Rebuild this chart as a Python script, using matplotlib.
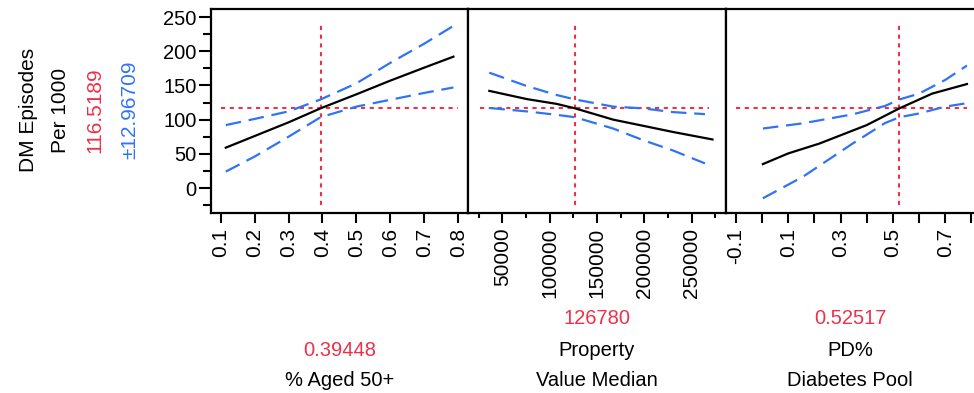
import numpy as np
import matplotlib
matplotlib.use("Agg")
from matplotlib import pyplot as plt
from matplotlib.ticker import FixedLocator, NullFormatter

plt.rcParams['font.family'] = ['Liberation Sans', 'DejaVu Sans']

RED = '#EE3049'
BLUE = '#2F74F5'

# valores
resp_nome = ["DM Episodes", "Per 1000"]
resp_valor = "116.5189"
resp_ic = "\u00b112.96709"
resp_y = 116.5189

# painel 1 - % Aged 50+
x1 = [0.115, 0.2, 0.3, 0.39448, 0.5, 0.6, 0.7, 0.786]
media1 = [59, 76, 96, 116.5, 137, 157, 176, 192]
sup1 = [92, 101, 112, 129.5, 153, 183, 211, 237]
inf1 = [24, 46, 75, 103.5, 119, 129, 139, 147]
faixa1 = [0.102, 0.80]

# painel 2 - Property Value Median
x2 = [36300, 76000, 107400, 126780, 167000, 198600, 230000, 271900]
media2 = [142, 130, 123, 116.5, 100, 91, 82, 71]
xb2 = [36300, 76000, 107400, 126780, 167000, 198600, 230000, 264000]
sup2 = [168.6, 149, 136, 129.5, 119, 116.5, 111, 108]
inf2 = [117, 112, 107, 103.5, 87, 70, 55, 36]
faixa2 = [26500, 268400]

# painel 3 - PD% Diabetes Pool
x3 = [0.003, 0.1, 0.219, 0.4, 0.52517, 0.65, 0.783]
media3 = [35, 50.6, 65, 92, 116.5, 138, 152]
xb3 = [0.003, 0.156, 0.346, 0.47, 0.52517, 0.6, 0.7, 0.783]
sup3 = [87, 94.6, 107.7, 120, 129.5, 138, 158, 179]
inf3 = [-15, 16.5, 65, 95, 103.5, 109, 119, 124]
faixa3 = [-0.1, 0.785]

fator_valor = ["0.39448", "126780", "0.52517"]
fator_x = [0.39448, 126780, 0.52517]
fator_nome = [["% Aged 50+"], ["Property", "Value Median"], ["PD%", "Diabetes Pool"]]

xlims = [(0.0714, 0.829), (13800, 286200), (-0.138, 0.81)]
xmaj = [[0.1, 0.2, 0.3, 0.4, 0.5, 0.6, 0.7, 0.8],
        [50000, 100000, 150000, 200000, 250000],
        [-0.1, 0.1, 0.3, 0.5, 0.7]]
xmin = [[],
        [25000, 75000, 125000, 175000, 225000, 275000],
        [0.0, 0.2, 0.4, 0.6, 0.8]]
xlab = [["0.1", "0.2", "0.3", "0.4", "0.5", "0.6", "0.7", "0.8"],
        ["50000", "100000", "150000", "200000", "250000"],
        ["-0.1", "0.1", "0.3", "0.5", "0.7"]]
xmin_len = [7, 3.5, 7]

yticks = [0, 50, 100, 150, 200, 250]
yminor = [-25, 25, 75, 125, 175, 225]

dados = [(x1, media1, x1, sup1, inf1, faixa1),
         (x2, media2, xb2, sup2, inf2, faixa2),
         (x3, media3, xb3, sup3, inf3, faixa3)]

W, H = 974, 393
fig = plt.figure(figsize=(W / 100, H / 100), dpi=100)

bordas = [211, 468, 726, 974]
topo, base = 9, 213
FS = 14.5   # texto horizontal
FV = 15     # texto rodado

for i in range(3):
    esq, dir_ = bordas[i], bordas[i + 1]
    ax = fig.add_axes([esq / W, 1 - base / H, (dir_ - esq) / W, (base - topo) / H])
    xm, med, xb, sp, inf, fx = dados[i]
    ax.plot([fx[0], fx[1]], [resp_y, resp_y], color=RED, lw=1.5, dashes=(2, 2.2))
    ax.plot([fator_x[i], fator_x[i]], [-25, 240], color=RED, lw=1.5, dashes=(2, 2.2))
    ax.plot(xb, sp, color=BLUE, lw=1.6, dashes=(7, 3.5))
    ax.plot(xb, inf, color=BLUE, lw=1.6, dashes=(7, 3.5))
    ax.plot(xm, med, color='black', lw=1.6)
    ax.set_xlim(*xlims[i])
    ax.set_ylim(-36.5, 261.7)
    ax.xaxis.set_major_locator(FixedLocator(xmaj[i]))
    ax.set_xticklabels(xlab[i], rotation=90, fontsize=FV)
    ax.xaxis.set_minor_locator(FixedLocator(xmin[i]))
    ax.xaxis.set_minor_formatter(NullFormatter())
    ax.tick_params(axis='x', which='major', length=7, width=1.5, pad=3.5)
    ax.tick_params(axis='x', which='minor', length=xmin_len[i], width=1.5)
    if i == 0:
        ax.set_yticks(yticks)
        ax.set_yticklabels([str(v) for v in yticks], fontsize=FS)
        ax.yaxis.set_minor_locator(FixedLocator(yminor))
        ax.tick_params(axis='y', which='major', length=8.5, width=1.5, pad=2)
        ax.tick_params(axis='y', which='minor', length=5.5, width=1.5)
    else:
        ax.set_yticks([])
    for s in ax.spines.values():
        s.set_linewidth(1.6)
    if i == 2:
        ax.spines['right'].set_visible(False)

    cx = (esq + dir_) / 2 / W
    nomes = fator_nome[i]
    if len(nomes) == 1:
        ys = [350, 381]
    else:
        ys = [318, 350, 381]
    fig.text(cx, 1 - ys[0] / H, fator_valor[i], color=RED, fontsize=FS, ha='center', va='center')
    for k, nm in enumerate(nomes):
        fig.text(cx, 1 - ys[k + 1] / H, nm, color='black', fontsize=FS, ha='center', va='center')

# rotulo da resposta
yc = 1 - 110 / H
fig.text(28 / W, yc, resp_nome[0], rotation=90, fontsize=FV, ha='center', va='center')
fig.text(60 / W, yc, resp_nome[1], rotation=90, fontsize=FV, ha='center', va='center')
fig.text(95 / W, yc, resp_valor, rotation=90, fontsize=FV, color=RED, ha='center', va='center')
fig.text(130 / W, yc, resp_ic, rotation=90, fontsize=FV, color=BLUE, ha='center', va='center')

fig.savefig("out.png", dpi=100)
